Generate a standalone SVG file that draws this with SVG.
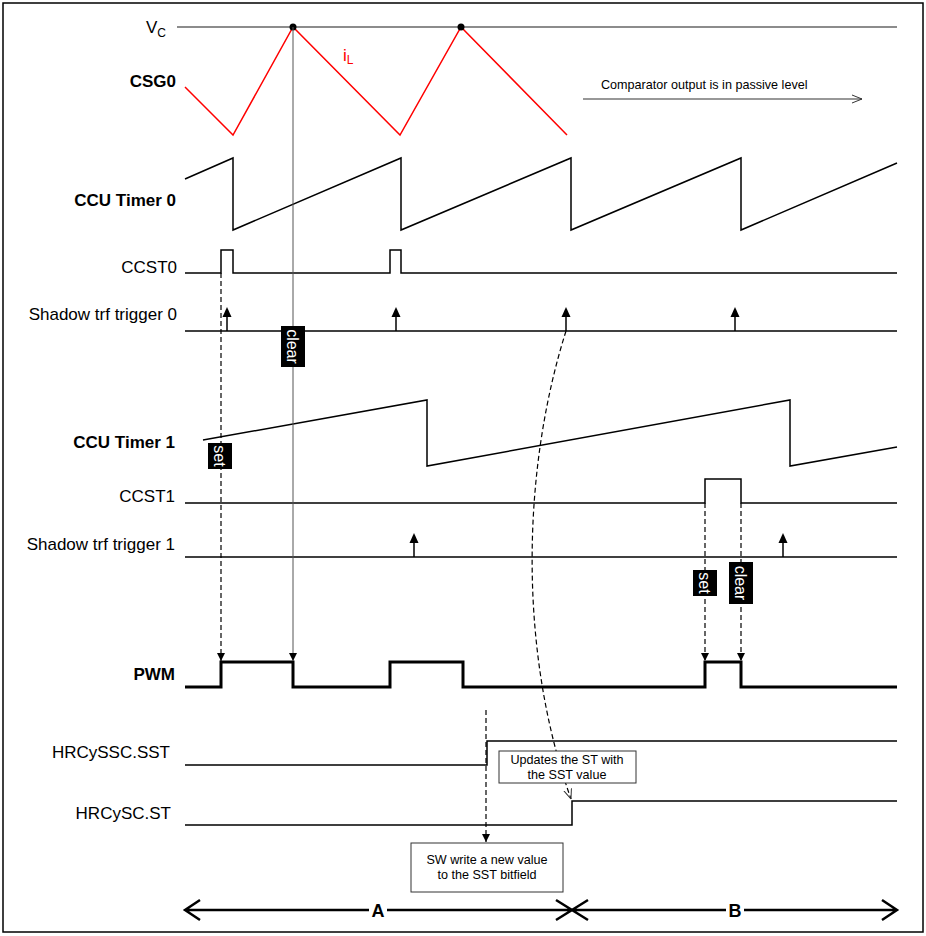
<svg xmlns="http://www.w3.org/2000/svg" width="926" height="936" viewBox="0 0 926 936">
<defs>
<style>
.lbl{font-family:"Liberation Sans",Arial,sans-serif;font-size:17px;fill:#000;text-anchor:end}
.b{font-weight:bold}
.sig{fill:none;stroke:#000;stroke-width:1.5}
.small{font-family:"Liberation Sans",Arial,sans-serif;font-size:12.6px;fill:#000;text-anchor:middle}
.dash{fill:none;stroke:#000;stroke-width:1.2;stroke-dasharray:5,3}
.tag{fill:#000}
.tagt{font-family:"Liberation Sans",Arial,sans-serif;font-size:16px;fill:#fff;text-anchor:middle}
.box{fill:#fff;stroke:#333;stroke-width:1}
.ab{fill:none;stroke:#000;stroke-width:2.5}
</style>
<marker id="ah" viewBox="0 0 10 10" refX="10" refY="5" markerWidth="10" markerHeight="8" markerUnits="userSpaceOnUse" orient="auto"><path d="M0,0 L10,5 L0,10 Z" fill="#000"/></marker>
<marker id="open" viewBox="0 0 10 10" refX="10" refY="5" markerWidth="10" markerHeight="10" markerUnits="userSpaceOnUse" orient="auto"><path d="M0,1 L10,5 L0,9" fill="none" stroke="#333" stroke-width="1"/></marker>
<g id="up"><line x1="0" y1="0" x2="0" y2="-15" stroke="#000" stroke-width="1.5"/><polygon points="-4.5,-14 4.5,-14 0,-24" fill="#000"/></g>
</defs>
<rect x="3" y="3" width="920" height="929" fill="#fff" stroke="#000" stroke-width="1.5"/>

<g id="vc">
<line x1="177" y1="27" x2="897" y2="27" stroke="#666" stroke-width="1.5"/>
<text class="lbl" x="166" y="33">V<tspan font-size="12" dy="4">C</tspan></text>
</g>

<g id="csg0">
<text class="lbl b" x="176" y="87">CSG0</text>
<polyline points="185,87 233,135 293,27 400,135 461,27 567,135" fill="none" stroke="#f00" stroke-width="1.5"/>
<text x="343" y="61" font-family="Liberation Sans, Arial, sans-serif" font-size="17" fill="#f00">i<tspan font-size="12" dy="3">L</tspan></text>
<circle cx="293" cy="27" r="3.5" fill="#000"/>
<circle cx="461" cy="27" r="3.5" fill="#000"/>
</g>

<g id="comparator">
<text x="601" y="89" font-family="Liberation Sans, Arial, sans-serif" font-size="12.6" fill="#000">Comparator output is in passive level</text>
<line x1="583" y1="99" x2="862" y2="99" stroke="#333" stroke-width="1.2" marker-end="url(#open)"/>
</g>

<g id="timer0">
<text class="lbl b" x="176" y="206">CCU Timer 0</text>
<polyline class="sig" points="185,179 233,158 233,230 401,158 401,230 571,158 571,230 741,158 741,230 897,163"/>
</g>

<g id="ccst0">
<text class="lbl" x="177" y="273">CCST0</text>
<path class="sig" d="M185,273 H221 V250 H233 V273 H390 V250 H401 V273 H897"/>
</g>

<g id="trig0">
<text class="lbl" x="177" y="320">Shadow trf trigger 0</text>
<line x1="185" y1="331" x2="897" y2="331" stroke="#000" stroke-width="1.5"/>
<use href="#up" x="227" y="331"/>
<use href="#up" x="396" y="331"/>
<use href="#up" x="566" y="331"/>
<use href="#up" x="735" y="331"/>
</g>

<g id="timer1">
<text class="lbl b" x="175" y="448">CCU Timer 1</text>
<polyline class="sig" points="203,440 427,400 427,466 790,400 790,466 897,447"/>
</g>

<g id="ccst1">
<text class="lbl" x="175" y="502">CCST1</text>
<path class="sig" d="M185,503 H705 V479 H741 V503 H897"/>
</g>

<g id="trig1">
<text class="lbl" x="175" y="550">Shadow trf trigger 1</text>
<line x1="185" y1="557" x2="897" y2="557" stroke="#000" stroke-width="1.5"/>
<use href="#up" x="414" y="557"/>
<use href="#up" x="783" y="557"/>
</g>

<g id="pwm">
<text class="lbl b" x="175" y="680">PWM</text>
<path d="M185,687 H221 V662 H293 V687 H390 V662 H463 V687 H705 V662 H741 V687 H897" fill="none" stroke="#000" stroke-width="3"/>
</g>

<g id="hrcyssc">
<text class="lbl" x="170" y="758">HRCySSC.SST</text>
<path class="sig" d="M185,765 H487 V741 H897"/>
</g>

<g id="hrcysc">
<text class="lbl" x="171" y="819">HRCySC.ST</text>
<path class="sig" d="M185,825 H572 V801 H897"/>
</g>

<g id="connectors">
<line x1="293" y1="27" x2="293" y2="661" stroke="#555" stroke-width="1" marker-end="url(#ah)"/>
<line class="dash" x1="221" y1="273" x2="221" y2="661" marker-end="url(#ah)"/>
<line class="dash" x1="705" y1="503" x2="705" y2="661" marker-end="url(#ah)"/>
<line class="dash" x1="741" y1="503" x2="741" y2="661" marker-end="url(#ah)"/>
<line class="dash" x1="486" y1="710" x2="486" y2="842" marker-end="url(#ah)"/>
<path class="dash" d="M566,331 C522,470 518,650 571,799" marker-end="url(#open)"/>
</g>

<g id="tag-clear0">
<rect class="tag" x="281" y="326" width="24" height="41"/>
<text class="tagt" transform="translate(293,346.5) rotate(90)" y="6">clear</text>
</g>
<g id="tag-set0">
<rect class="tag" x="208" y="443" width="24" height="26"/>
<text class="tagt" transform="translate(220,456) rotate(90)" y="6">set</text>
</g>
<g id="tag-set1">
<rect class="tag" x="693" y="570" width="24" height="26"/>
<text class="tagt" transform="translate(705,583) rotate(90)" y="6">set</text>
</g>
<g id="tag-clear1">
<rect class="tag" x="729" y="562" width="24" height="42"/>
<text class="tagt" transform="translate(741,583) rotate(90)" y="6">clear</text>
</g>

<g id="box-update">
<rect class="box" x="499" y="751" width="137" height="32"/>
<text class="small" x="567" y="764">Updates the ST with</text>
<text class="small" x="567" y="779">the SST value</text>
</g>

<g id="box-sw">
<rect class="box" x="411" y="843" width="152" height="49"/>
<text class="small" x="487" y="864">SW write a new value</text>
<text class="small" x="487" y="879">to the SST bitfield</text>
</g>

<g id="interval-a">
<path class="ab" d="M185,910 H369 M387,910 H572 M200,900 L185,910 L200,920 M556,900 L572,910 L556,920"/>
<text x="378" y="917" text-anchor="middle" font-family="Liberation Sans, Arial, sans-serif" font-weight="bold" font-size="18">A</text>
</g>
<g id="interval-b">
<path class="ab" d="M572,910 H726 M744,910 H897 M588,900 L572,910 L588,920 M882,900 L897,910 L882,920"/>
<text x="735" y="917" text-anchor="middle" font-family="Liberation Sans, Arial, sans-serif" font-weight="bold" font-size="18">B</text>
</g>
</svg>
